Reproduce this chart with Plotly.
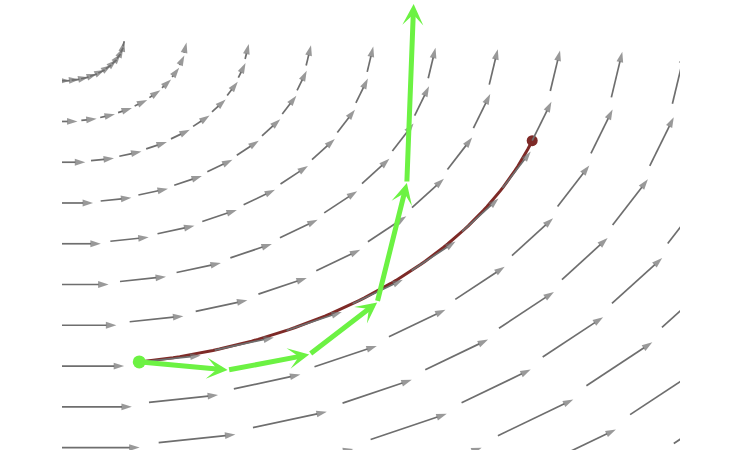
import numpy as np
import plotly.graph_objects as go

# direction field of x' = -y, y' = x, sampled on circles around the origin
radii = [1, 2, 3, 4, 5, 6, 7, 8, 9, 10, 11, 12, 13, 14]
angle_index = [0, 1, 2, 3, 4, 5, 6, 7, 8, 9]
d_theta = np.pi / 20
arrow_scale = 0.8 * d_theta

# exact solution: arc on the circle of radius 8
exact_radius = 8
exact_from, exact_to = 1, 8

# step path
step_x = [1.25, 2.68, 4.00, 5.10, 5.58, 5.69]
step_y = [-7.90, -8.10, -7.72, -6.44, -3.51, 0.88]

GRAY = '#6e6e6e'
RED = '#7e2a27'
GREEN = '#6cf243'

fig = go.Figure()

# exact solution first so the field arrows stay visible on it
t = np.linspace(exact_from * d_theta, exact_to * d_theta, 80)
fig.add_trace(go.Scatter(x=exact_radius * np.sin(t), y=-exact_radius * np.cos(t),
                         mode='lines', line=dict(color=RED, width=3),
                         hoverinfo='skip'))
fig.add_trace(go.Scatter(x=[exact_radius * np.sin(exact_to * d_theta)],
                         y=[-exact_radius * np.cos(exact_to * d_theta)],
                         mode='markers', marker=dict(color=RED, size=11),
                         hoverinfo='skip'))

# field arrows
gx, gy, gs = [], [], []
for r in radii:
    for k in angle_index:
        th = k * d_theta
        x0, y0 = r * np.sin(th), -r * np.cos(th)
        u, v = -y0, x0
        gx += [x0, x0 + arrow_scale * u, None]
        gy += [y0, y0 + arrow_scale * v, None]
        gs += [0, 11, 0]

fig.add_trace(go.Scatter(x=gx, y=gy, mode='lines+markers',
                         line=dict(color=GRAY, width=1.7),
                         marker=dict(symbol='arrow', angleref='previous',
                                     size=gs, color=GRAY, line=dict(width=0)),
                         hoverinfo='skip'))

# start point of the step path
fig.add_trace(go.Scatter(x=[step_x[0]], y=[step_y[0]], mode='markers',
                         marker=dict(color=GREEN, size=13), hoverinfo='skip'))

# step arrows
for i in range(1, len(step_x)):
    fig.add_annotation(x=step_x[i], y=step_y[i], ax=step_x[i - 1], ay=step_y[i - 1],
                       xref='x', yref='y', axref='x', ayref='y', text='',
                       showarrow=True, arrowhead=3, arrowsize=0.7,
                       arrowwidth=5, arrowcolor=GREEN, standoff=0)

fig.update_layout(
    width=752, height=470,
    margin=dict(l=62, r=72, t=0, b=20),
    showlegend=False,
    plot_bgcolor='white',
    paper_bgcolor='white',
    xaxis=dict(range=[0, 10], visible=False),
    yaxis=dict(range=[-10.06, 0.98], visible=False),
)

# page body has an 8px default margin; drop it so the figure sits at the corner
fig.write_html("out.html", config={'displayModeBar': False},
               post_script="document.body.style.margin='0';")
